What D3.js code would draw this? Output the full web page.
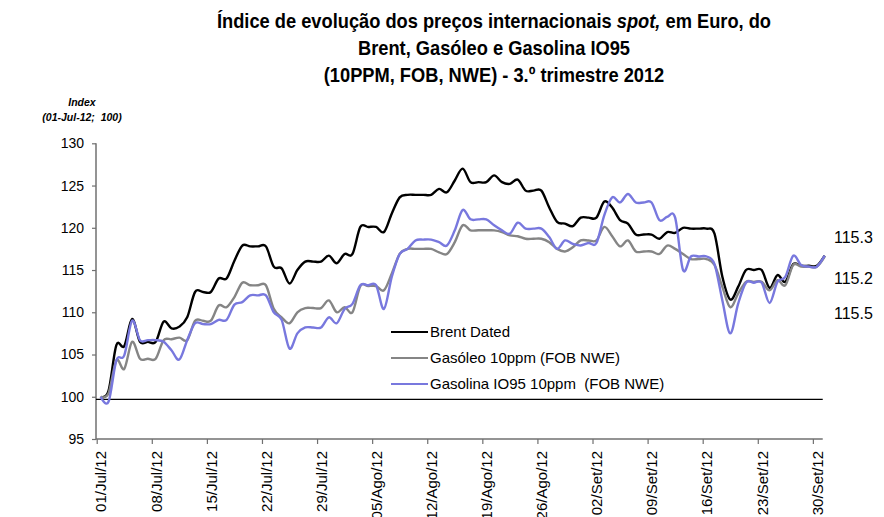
<!DOCTYPE html>
<html><head><meta charset="utf-8">
<script src="https://cdn.jsdelivr.net/npm/d3@7"></script>
<style>
html,body{margin:0;padding:0;background:#fff;}
svg{display:block;font-family:"Liberation Sans",Arial,sans-serif;}
text{white-space:pre;}
</style></head>
<body>
<svg id="chart" width="884" height="517"></svg>
<script>
// ---- data ----
const startDate = "2012-07-01";
const brent = [100.0,100.7,106.1,106.0,109.2,106.5,106.5,106.5,108.9,108.1,108.3,109.4,112.4,112.4,112.4,114.0,114.0,116.1,117.9,117.8,117.8,117.8,115.4,115.2,113.4,115.0,116.0,116.0,116.0,116.7,115.8,116.9,116.9,120.1,120.1,120.1,119.5,121.7,123.6,123.9,123.9,123.9,123.9,124.6,124.2,125.6,127.0,125.4,125.4,125.4,126.2,125.4,125.2,125.7,124.4,124.4,124.4,122.4,120.7,120.5,120.2,121.2,121.2,121.2,123.1,122.4,120.9,120.5,119.2,119.2,119.2,118.7,119.5,119.4,120.0,119.9,119.9,119.9,119.3,114.2,111.5,113.0,115.0,115.0,115.0,112.9,114.4,113.6,115.7,115.5,115.5,115.5,116.7];
const gasoleo = [100.0,100.4,104.3,103.3,106.5,104.5,104.5,104.5,106.7,106.8,107.0,106.7,109.0,109.0,109.0,110.8,110.6,111.8,113.5,113.2,113.2,113.2,110.4,109.4,108.7,110.0,110.5,110.5,110.5,111.4,110.0,110.6,110.0,113.1,113.1,113.1,112.6,114.6,116.9,117.5,117.5,117.5,117.5,117.1,116.9,118.3,120.3,119.7,119.7,119.7,119.7,119.5,119.1,119.0,118.7,118.7,118.7,118.3,117.5,117.2,117.7,118.5,118.5,118.5,120.1,119.0,117.8,118.5,117.2,117.2,117.2,116.9,117.9,117.5,116.9,116.3,116.3,116.3,115.6,113.0,110.6,112.2,113.6,113.6,113.6,112.6,113.8,113.2,115.6,115.4,115.4,115.4,116.6];
const gasolina = [100.0,99.4,104.3,104.9,109.0,106.7,106.7,106.7,106.5,105.5,104.4,106.7,108.7,108.6,108.6,109.1,109.1,110.9,111.2,112.0,112.0,112.0,110.0,109.1,105.7,107.5,108.2,108.2,108.2,109.4,108.7,110.4,111.0,113.2,113.2,113.2,110.4,114.2,116.9,117.5,118.5,118.6,118.6,118.3,117.9,119.7,122.1,121.0,121.0,121.0,120.3,119.7,119.3,120.6,119.9,119.9,119.9,118.9,117.5,118.5,118.1,117.9,118.2,118.2,121.5,123.6,123.0,124.0,123.0,123.0,123.0,120.9,121.3,121.2,115.0,116.6,116.6,116.6,115.7,111.4,107.5,111.0,113.5,113.5,113.5,111.1,113.6,114.2,116.7,115.6,115.4,115.4,116.7];
const seriesNames = ["Brent Dated","Gasóleo 10ppm (FOB NWE)","Gasolina IO95 10ppm  (FOB NWE)"];
const seriesColors = ["#000000","#858585","#7878de"];
const tickLabels = ["01/Jul/12","08/Jul/12","15/Jul/12","22/Jul/12","29/Jul/12","05/Ago/12","12/Ago/12","19/Ago/12","26/Ago/12","02/Set/12","09/Set/12","16/Set/12","23/Set/12","30/Set/12"];
const yTicks = [95,100,105,110,115,120,125,130];
const endLabels = ["115.3","115.2","115.5"];
const baseValue = 99.7;

// ---- layout ----
const svg = d3.select("#chart");
svg.append("rect").attr("width",884).attr("height",517).attr("fill","#fff");

const t0 = d3.timeParse("%Y-%m-%d")(startDate);
const dates = brent.map((_,i)=> d3.timeHour.offset(d3.timeDay.offset(t0,i),12));
const tickDates = tickLabels.map((_,i)=> d3.timeDay.offset(t0,i*7));

const x = d3.scaleTime().domain([t0, d3.timeDay.offset(t0,93)]).range([96.7, 96.7+93*7.87]);
const y = d3.scaleLinear().domain([95,130]).range([439,143.3]);
const xEnd = x(d3.timeDay.offset(t0,92))+2;

// title (condensed bold look)
const title = svg.append("g").attr("transform","translate(494,0) scale(0.87,1)")
  .attr("font-family","'Liberation Sans Narrow','Arial Narrow','Liberation Sans',sans-serif")
  .attr("font-weight","bold").attr("font-size",21).attr("text-anchor","middle").attr("fill","#000");
const l1 = title.append("text").attr("x",0).attr("y",28);
l1.append("tspan").text("Índice de evolução dos preços internacionais ");
l1.append("tspan").attr("font-style","italic").text("spot,");
l1.append("tspan").text(" em Euro, do");
title.append("text").attr("x",0).attr("y",55).text("Brent, Gasóleo e Gasolina IO95");
title.append("text").attr("x",0).attr("y",82).text("(10PPM, FOB, NWE) - 3.º trimestre 2012");

// y-axis title
const yt = svg.append("g").attr("font-weight","bold").attr("font-style","italic").attr("font-size",10.5).attr("text-anchor","middle");
yt.append("text").attr("x",82).attr("y",106).text("Index");
yt.append("text").attr("x",82).attr("y",121).text("(01-Jul-12;  100)");

// axes
const axisColor = "#707070";
const yAxis = svg.append("g").attr("transform","translate(96,0)")
  .call(d3.axisLeft(y).tickValues(yTicks).tickSize(4).tickPadding(8).tickFormat(d3.format("d")));
yAxis.select(".domain").attr("stroke",axisColor).attr("stroke-width",1.5).attr("d",`M0,${y(130)}V${y(95)}`);
yAxis.selectAll(".tick line").attr("stroke",axisColor).attr("stroke-width",1.2);
yAxis.selectAll(".tick text").attr("font-size",14).attr("font-family","'Liberation Sans',Arial,sans-serif").attr("fill","#000");

const xAxis = svg.append("g").attr("transform",`translate(0,${y(95)})`)
  .call(d3.axisBottom(x).tickValues(tickDates).tickSize(5).tickFormat((d,i)=>tickLabels[i]));
xAxis.select(".domain").attr("stroke",axisColor).attr("stroke-width",1.5).attr("d",`M96,0H${xEnd}`);
xAxis.selectAll(".tick line").attr("stroke",axisColor).attr("stroke-width",1.2);
xAxis.selectAll(".tick text")
  .attr("font-size",15).attr("font-family","'Liberation Sans',Arial,sans-serif").attr("fill","#000")
  .attr("text-anchor","end").attr("transform","translate(4,0) rotate(-90)")
  .attr("x",-12).attr("y",0).attr("dy","0.35em").attr("dx",0);

// reference line at 100
svg.append("line").attr("x1",96).attr("x2",xEnd).attr("y1",y(baseValue)).attr("y2",y(baseValue))
  .attr("stroke","#000").attr("stroke-width",1.2);

// lines
const line = d3.line().x((d,i)=>x(dates[i])).y(d=>y(d)).curve(d3.curveCatmullRom.alpha(0));
[brent,gasoleo,gasolina].forEach((s,k)=>{
  svg.append("path").datum(s).attr("d",line).attr("fill","none")
    .attr("stroke",seriesColors[k]).attr("stroke-width",2.4).attr("stroke-linejoin","round");
});

// legend
const lg = svg.append("g").attr("font-size",15).attr("font-family","'Liberation Sans',Arial,sans-serif");
seriesNames.forEach((n,k)=>{
  const yy = 332 + k*26;
  lg.append("line").attr("x1",391).attr("x2",428).attr("y1",yy).attr("y2",yy).attr("stroke",seriesColors[k]).attr("stroke-width",2);
  lg.append("text").attr("x",430).attr("y",yy).attr("dy","0.35em").text(n);
});

// end labels
const el = svg.append("g").attr("font-size",16).attr("font-family","'Liberation Sans',Arial,sans-serif");
[237,278,313].forEach((yy,k)=>{
  el.append("text").attr("x",834).attr("y",yy).attr("dy","0.35em").text(endLabels[k]);
});
</script>
</body></html>
